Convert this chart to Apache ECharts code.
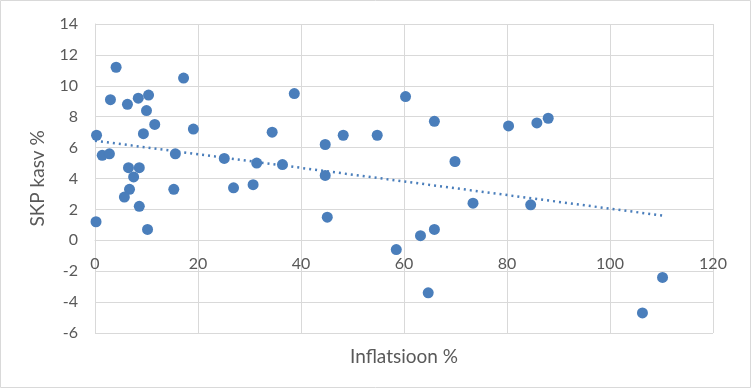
<!DOCTYPE html>
<html><head><meta charset="utf-8">
<script src="https://cdn.jsdelivr.net/npm/echarts@6/dist/echarts.min.js"></script>
<style>html,body{margin:0;padding:0;background:#fff}#c{width:752px;height:389px}</style>
</head><body><div id="c"></div>
<script>
// Inflation % (x) vs GDP growth % (y)
const inflation = [4.1,17.2,3.0,6.3,8.4,10.4,10.0,11.6,9.4,19.1,0.3,1.4,2.8,15.6,6.5,8.6,7.5,6.7,5.7,15.3,8.6,0.2,10.2,
  38.7,34.4,44.7,48.2,25.1,31.4,36.4,44.7,26.9,30.7,45.1,
  60.3,65.9,54.8,69.9,73.4,65.9,63.2,58.5,64.7,
  80.3,85.8,88.0,84.6,110.2,106.3];
const gdpGrowth = [11.2,10.5,9.1,8.8,9.2,9.4,8.4,7.5,6.9,7.2,6.8,5.5,5.6,5.6,4.7,4.7,4.1,3.3,2.8,3.3,2.2,1.2,0.7,
  9.5,7.0,6.2,6.8,5.3,5.0,4.9,4.2,3.4,3.6,1.5,
  9.3,7.7,6.8,5.1,2.4,0.7,0.3,-0.6,-3.4,
  7.4,7.6,7.9,2.3,-2.4,-4.7];
// Dotted trend line endpoints
const trendX = [0, 110.2];
const trendY = [6.45, 1.6];
const xTicks = [0, 120, 20];
const yTicks = [-6, 14, 2];

const font = 'Lato, "Liberation Sans", sans-serif';
const blue = '#4a7ebb';
const gridTop = 24, gridBottom = 56, H = 389;
const plotH = H - gridTop - gridBottom;
const zeroOffset = plotH * (0 - yTicks[0]) / (yTicks[1] - yTicks[0]);
const chart = echarts.init(document.getElementById('c'));
chart.setOption({
  animation: false,
  graphic: [{type:'rect', shape:{x:0.5,y:0.5,width:750,height:387}, style:{fill:'none', stroke:'#d9d9d9', lineWidth:1}, silent:true}],
  grid: {left: 95, right: 39, top: gridTop, bottom: gridBottom},
  xAxis: {
    type: 'value', min: xTicks[0], max: xTicks[1], interval: xTicks[2],
    position: 'bottom', offset: -zeroOffset,
    name: 'Inflatsioon %', nameLocation: 'middle', nameGap: 107,
    nameTextStyle: {color:'#595959', fontSize: 19, fontFamily: font, verticalAlign: 'top'},
    axisLine: {onZero: false, lineStyle: {color:'#d9d9d9'}},
    axisTick: {show:false},
    axisLabel: {color:'#595959', fontSize: 16, fontFamily: font, margin: 16},
    splitLine: {show:true, lineStyle:{color:'#d9d9d9'}}
  },
  yAxis: {
    type: 'value', min: yTicks[0], max: yTicks[1], interval: yTicks[2],
    name: 'SKP kasv %', nameLocation: 'middle', nameGap: 48,
    nameTextStyle: {color:'#595959', fontSize: 19, fontFamily: font},
    axisLine: {show:true, lineStyle:{color:'#d9d9d9'}},
    axisTick: {show:false},
    axisLabel: {color:'#595959', fontSize: 16, fontFamily: font, margin: 17},
    splitLine: {show:true, lineStyle:{color:'#d9d9d9'}}
  },
  series: [
    {type:'scatter', symbolSize: 11, itemStyle:{color: blue, opacity:1},
     data: inflation.map((x,i)=>[x, gdpGrowth[i]]), z: 3},
    {type:'line', symbol:'none', data: trendX.map((x,i)=>[x, trendY[i]]),
     lineStyle:{color: blue, width: 2.5, type:[2,4], cap:'butt'}, z: 2}
  ]
});
</script></body></html>
